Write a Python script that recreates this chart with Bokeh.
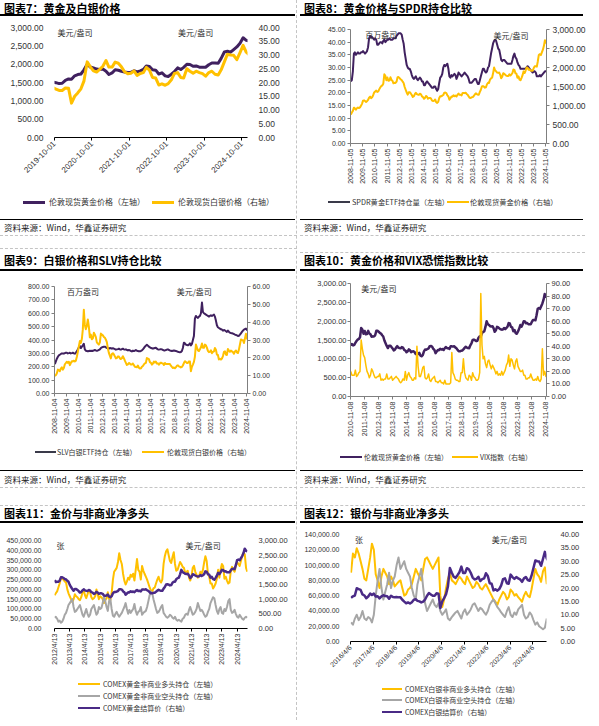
import numpy as np
import pandas as pd
from math import pi
from bokeh.plotting import figure
from bokeh.models import (Range1d, LinearAxis, FixedTicker, NumeralTickFormatter, Label, Div)
from bokeh.layouts import column, row
from bokeh.embed import file_html
from bokeh.resources import INLINE

# ---------------- data (monthly readings from the picture) ----------------
gold_m = [
    760, 816,
    858, 943, 924, 890, 928, 946, 934, 949, 996, 1043, 1127, 1135,
    1118, 1095, 1113, 1148, 1205, 1232, 1193, 1215, 1271, 1343, 1370, 1391,
    1356, 1372, 1424, 1474, 1510, 1529, 1572, 1820, 1780, 1665, 1739, 1652,
    1656, 1742, 1673, 1650, 1585, 1596, 1594, 1626, 1744, 1747, 1721, 1688,
    1671, 1627, 1593, 1487, 1414, 1343, 1286, 1347, 1349, 1316, 1275, 1225,
    1244, 1300, 1336, 1299, 1287, 1279, 1311, 1296, 1239, 1222, 1176, 1200,
    1251, 1227, 1179, 1198, 1199, 1181, 1128, 1118, 1125, 1159, 1086, 1068,
    1097, 1199, 1246, 1242, 1260, 1276, 1337, 1341, 1326, 1267, 1238, 1151,
    1192, 1234, 1231, 1267, 1246, 1260, 1236, 1283, 1314, 1280, 1283, 1265,
    1331, 1331, 1325, 1335, 1304, 1281, 1238, 1202, 1199, 1215, 1221, 1250,
    1291, 1320, 1300, 1285, 1283, 1359, 1413, 1500, 1510, 1495, 1470, 1479,
    1560, 1597, 1591, 1683, 1716, 1732, 1847, 2000, 1921, 1900, 1866, 1858,
    1867, 1808, 1718, 1760, 1850, 1834, 1807, 1785, 1775, 1777, 1820, 1790,
    1817, 1856, 1948, 1937, 1849, 1837, 1732, 1765, 1681, 1665, 1726, 1798,
    1898, 1855, 1913, 1999, 1992, 1942, 1951, 1918, 1916, 1916, 1985, 2031,
    2034, 2023, 2158, 2331, 2351, 2326, 2398, 2470, 2571, 2720, 2650, 2630,
]
silver_m = [
    9.8, 10.3,
    11.3, 13.4, 13.1, 12.5, 14.0, 14.7, 13.4, 14.3, 16.4, 17.1, 17.8, 17.2,
    17.8, 15.9, 17.1, 18.1, 18.0, 18.4, 17.9, 18.4, 20.6, 23.4, 26.5, 29.4,
    28.4, 30.7, 35.8, 47.0, 38.6, 36.0, 37.9, 41.5, 37.5, 31.5, 33.0, 30.4,
    31.0, 34.1, 33.0, 31.6, 28.7, 28.0, 27.4, 28.7, 33.6, 33.0, 32.6, 31.7,
    31.2, 30.2, 28.8, 25.4, 22.8, 21.2, 19.7, 22.1, 22.6, 21.9, 20.8, 19.7,
    19.9, 20.8, 20.7, 19.7, 19.3, 19.8, 20.9, 19.8, 18.4, 17.2, 16.0, 16.3,
    17.1, 16.8, 16.2, 16.3, 16.8, 16.0, 15.0, 14.9, 14.7, 15.7, 14.5, 14.0,
    14.1, 15.0, 15.4, 16.3, 16.9, 17.2, 19.9, 19.6, 19.3, 17.6, 17.2, 16.2,
    16.8, 17.9, 17.4, 17.9, 16.8, 16.9, 16.1, 16.9, 17.3, 17.0, 16.9, 16.0,
    17.1, 16.6, 16.5, 16.6, 16.5, 16.5, 15.6, 14.9, 14.3, 14.6, 14.2, 14.7,
    15.6, 15.8, 15.2, 15.0, 14.6, 14.9, 15.7, 17.1, 18.1, 17.6, 17.1, 17.1,
    18.0, 17.9, 12.5, 15.0, 16.2, 17.7, 20.6, 27.5, 25.7, 24.2, 23.8, 24.8,
    25.9, 28.0, 25.6, 25.6, 27.4, 27.0, 25.7, 23.9, 23.2, 23.4, 24.2, 22.6,
    23.3, 23.6, 25.5, 24.5, 21.8, 21.6, 19.1, 19.5, 19.0, 19.6, 21.0, 23.3,
    23.6, 21.8, 21.6, 25.0, 24.1, 23.4, 24.1, 23.6, 23.2, 22.3, 23.6, 24.1,
    23.0, 22.7, 24.6, 27.5, 30.3, 30.0, 29.9, 28.3, 30.9, 33.5, 31.0, 30.0,
]
spdr_m = [
    24.5, 25.0,
    28.5, 35.5, 36.0, 35.0, 35.5, 36.0, 35.5, 35.5, 36.0, 36.0, 36.5, 36.0,
    35.5, 36.0, 36.5, 38.0, 41.5, 42.5, 42.0, 42.0, 41.5, 41.0, 41.5, 41.0,
    39.0, 39.0, 39.5, 40.0, 40.0, 39.5, 40.5, 41.0, 40.0, 40.5, 41.0, 41.0,
    41.5, 41.0, 41.0, 41.0, 41.5, 41.5, 41.5, 42.5, 43.0, 43.5, 43.5, 43.5,
    43.0, 41.0, 39.5, 36.0, 33.5, 31.0, 30.0, 29.5, 29.5, 28.5, 27.0, 26.0,
    25.5, 26.0, 26.5, 25.5, 25.0, 25.5, 26.0, 25.5, 24.5, 24.5, 23.0, 23.0,
    24.0, 24.5, 24.0, 23.5, 23.0, 22.5, 22.0, 22.0, 22.5, 22.5, 21.5, 20.8,
    21.5, 24.0, 26.0, 26.5, 27.5, 30.0, 31.0, 30.5, 31.0, 31.5, 29.5, 26.5,
    26.0, 27.0, 26.5, 27.0, 27.5, 27.0, 25.5, 26.5, 28.0, 27.5, 27.0, 26.5,
    27.0, 27.5, 28.0, 27.5, 27.0, 26.5, 25.5, 24.0, 24.0, 24.0, 24.5, 25.0,
    25.5, 25.5, 24.5, 23.5, 23.5, 25.0, 26.5, 28.0, 29.5, 29.5, 28.5, 28.0,
    28.5, 30.0, 30.5, 33.0, 35.5, 37.5, 39.5, 40.5, 41.0, 40.5, 39.0, 37.5,
    37.0, 35.0, 33.0, 32.5, 33.0, 33.0, 32.5, 32.0, 31.5, 31.5, 31.5, 31.5,
    31.5, 33.0, 34.5, 35.5, 34.0, 33.5, 32.0, 31.0, 30.5, 29.5, 29.5, 29.5,
    29.5, 29.5, 29.5, 30.0, 30.5, 30.0, 29.5, 29.0, 28.5, 28.0, 28.5, 28.5,
    28.0, 26.5, 26.5, 26.5, 27.0, 26.5, 27.0, 27.5, 28.0, 28.5, 28.5, 28.5,
]
slv_m = [
    220, 240,
    260, 275, 285, 290, 295, 300, 300, 298, 302, 305, 305, 300,
    302, 305, 300, 302, 305, 300, 298, 305, 315, 330, 345, 355,
    340, 350, 360, 372, 330, 320, 318, 315, 318, 320, 318, 320,
    318, 322, 325, 322, 320, 322, 325, 330, 340, 345, 348, 350,
    350, 345, 340, 338, 335, 340, 338, 335, 338, 335, 332, 328,
    330, 332, 335, 330, 328, 332, 335, 330, 328, 330, 325, 322,
    325, 322, 318, 315, 320, 318, 320, 325, 320, 318, 315, 315,
    318, 322, 330, 340, 350, 358, 365, 358, 350, 345, 340, 338,
    335, 338, 340, 342, 335, 330, 328, 330, 332, 330, 325, 322,
    322, 325, 328, 330, 325, 322, 320, 318, 320, 322, 320, 318,
    315, 312, 310, 308, 310, 318, 340, 380, 375, 365, 362, 360,
    365, 375, 360, 370, 400, 430, 560, 580, 570, 565, 575, 580,
    600, 680, 610, 600, 595, 590, 585, 580, 575, 580, 585, 580,
    585, 590, 575, 545, 510, 495, 490, 485, 480, 478, 470, 475,
    472, 465, 460, 470, 462, 455, 452, 450, 448, 445, 440, 438,
    435, 430, 432, 440, 450, 460, 470, 478, 482, 485, 475, 470,
]
vix_m = [
    20, 17,
    17, 17, 21, 16, 17, 19, 20, 45, 38, 33, 31, 25,
    20, 18, 15, 17, 22, 20, 17, 15, 15, 16, 16, 18,
    13, 14, 13, 14, 14, 18, 14, 14, 15, 16, 13, 14,
    15, 16, 15, 14, 12, 11, 12, 14, 13, 20, 13, 17,
    19, 16, 15, 13, 13, 15, 14, 40, 24, 16, 16, 19,
    23, 24, 15, 14, 15, 18, 13, 12, 14, 15, 16, 12,
    12, 11, 12, 13, 11, 11, 10, 13, 10, 10, 10, 10,
    11, 35, 19, 17, 14, 13, 13, 12, 12, 19, 19, 30,
    19, 15, 14, 13, 17, 16, 13, 19, 16, 15, 13, 13,
    14, 19, 82, 41, 30, 32, 26, 23, 28, 29, 25, 22,
    25, 23, 21, 18, 20, 17, 18, 17, 20, 17, 19, 21,
    25, 27, 33, 24, 30, 29, 25, 22, 28, 30, 24, 22,
    20, 20, 21, 17, 17, 14, 14, 15, 15, 18, 15, 13,
    13, 14, 13, 16, 13, 12, 14, 38, 17, 20, 16, 17,
]
gold_long_k = [
    170, 180, 190, 210, 230, 260, 255, 250, 240,
    235, 200, 180, 165, 150, 135, 150, 175, 165, 160, 150, 145,
    160, 185, 195, 170, 155, 175, 195, 185, 160, 150, 155, 165,
    200, 175, 150, 165, 160, 150, 130, 145, 155, 185, 150, 145,
    180, 250, 290, 300, 310, 340, 385, 350, 330, 280, 245, 225,
    240, 260, 250, 275, 265, 280, 245, 300, 355, 300, 290, 250,
    320, 295, 280, 265, 250, 230, 210, 195, 190, 205, 210, 230,
    250, 265, 245, 235, 250, 330, 370, 395, 405, 375, 345, 335,
    365, 390, 330, 295, 300, 320, 340, 330, 315, 310, 285, 290,
    295, 260, 245, 265, 310, 320, 290, 275, 260, 270, 290, 280,
    300, 340, 370, 345, 280, 265, 230, 230, 205, 215, 230, 255,
    300, 260, 300, 330, 320, 255, 265, 245, 230, 235, 295, 315,
    300, 290, 320, 340, 330, 320, 345, 370, 385, 380, 310, 290,
]
gold_short_k = [
    55, 60, 50, 35, 40, 30, 35, 50, 70,
    80, 100, 120, 130, 140, 150, 110, 85, 90, 100, 110, 120,
    95, 70, 60, 80, 100, 75, 60, 70, 100, 110, 120, 95,
    70, 80, 110, 100, 105, 130, 165, 140, 110, 90, 140, 150,
    100, 65, 60, 75, 85, 70, 60, 70, 80, 95, 110, 130,
    100, 75, 95, 80, 90, 100, 125, 90, 70, 85, 90, 110,
    70, 80, 85, 90, 110, 140, 170, 190, 180, 150, 125, 100,
    80, 85, 95, 110, 120, 80, 70, 60, 55, 60, 70, 65,
    55, 50, 60, 45, 40, 45, 40, 35, 50, 55, 70, 75,
    70, 95, 110, 90, 70, 75, 85, 100, 130, 110, 90, 95,
    85, 70, 60, 65, 85, 100, 130, 145, 160, 155, 120, 90,
    75, 100, 110, 80, 75, 100, 90, 110, 140, 150, 95, 80,
    85, 95, 75, 60, 55, 70, 60, 50, 45, 55, 60, 55,
]
silver_long_k = [
    90, 115, 110, 122, 115, 105, 95, 82, 80,
    95, 110, 128, 120, 88, 80, 70, 85, 95, 90, 85, 75,
    85, 80, 72, 75, 78, 80, 70, 60, 62, 68, 70, 75,
    85, 95, 90, 85, 80, 95, 108, 110, 105, 100, 95, 100,
    105, 110, 60, 45, 55, 70, 82, 90, 80, 78, 75, 80,
    85, 82, 78, 75, 85, 80, 75, 70, 72, 78, 75, 70,
    68, 72, 75, 70, 65, 60, 55, 52, 48, 55, 60, 65,
    62, 55, 58, 68, 65, 60, 62, 58, 55, 52, 60, 65,
    60, 58, 68, 82, 95, 88, 85, 78, 92, 97, 75,
]
silver_short_k = [
    25, 22, 30, 35, 28, 32, 40, 30, 28,
    32, 30, 25, 35, 60, 80, 95, 70, 55, 65, 75, 90,
    70, 80, 85, 100, 110, 95, 100, 105, 95, 90, 85, 70,
    60, 55, 75, 85, 95, 70, 50, 40, 45, 50, 55, 48,
    45, 50, 40, 35, 38, 42, 30, 28, 32, 35, 38, 40,
    35, 30, 38, 42, 35, 38, 42, 48, 50, 45, 40, 44,
    42, 38, 35, 40, 48, 52, 55, 50, 45, 42, 38, 35,
    32, 40, 45, 35, 32, 38, 35, 42, 45, 48, 35, 30,
    32, 38, 35, 28, 22, 25, 20, 18, 16, 18, 30,
]

EPOCH = pd.Timestamp("1970-01-01")


def day(s):
    return float((pd.Timestamp(s) - EPOCH).days)


def mseries(vals, start, scale=1.0):
    idx = pd.date_range(start, periods=len(vals), freq="MS")
    return pd.Series(np.asarray(vals, dtype=float) * scale, index=idx)


def xs(s):
    return [float((t - EPOCH).days + 14) for t in s.index]


gold = mseries(gold_m, "2008-11-01")
silver = mseries(silver_m, "2008-11-01")
spdr = mseries(spdr_m, "2008-11-01")
slv = mseries(slv_m, "2008-11-01")
vix = mseries(vix_m, "2010-11-01")
g_long = mseries(gold_long_k, "2012-04-01", 1000)
g_short = mseries(gold_short_k, "2012-04-01", 1000)
s_long = mseries(silver_long_k, "2016-04-01", 1000)
s_short = mseries(silver_short_k, "2016-04-01", 1000)

PURPLE = "#40215F"
PURPLE2 = "#4A2A86"
YELLOW = "#FFC000"
GRAY = "#A6A6A6"
CJK = "Noto Sans CJK SC"
NUM = "Liberation Sans"
TXT = "#333333"
LW, RW = 296, 296


def make_panel(w, h, L, R, T, FH, xr, yl, yr, yline, xticks, xlabels, orient,
               lsize, rsize, xsize, lstand, rstand):
    x0, x1 = day(xr[0]), day(xr[1])
    p = figure(width=w, height=h, x_range=Range1d(x0, x1), y_range=Range1d(yl[0], yl[1]),
               output_backend="svg", toolbar_location=None,
               min_border_left=L, min_border_right=R, min_border_top=T,
               min_border_bottom=h - T - FH)
    p.extra_y_ranges = {"r": Range1d(yr[0], yr[1])}
    p.outline_line_color = None
    p.xgrid.visible = False
    p.ygrid.visible = False
    p.background_fill_color = "white"
    p.border_fill_color = "white"
    rax = LinearAxis(y_range_name="r")
    p.add_layout(rax, "right")
    for ax, spec, size, stand in ((p.yaxis[0], yl, lsize, lstand), (rax, yr, rsize, rstand)):
        ax.ticker = FixedTicker(ticks=list(np.arange(spec[0], spec[1] + spec[2] / 2, spec[2])))
        ax.formatter = NumeralTickFormatter(format=spec[3])
        ax.major_label_text_font = NUM
        ax.major_label_text_font_size = size
        ax.major_label_text_color = TXT
        ax.minor_tick_line_color = None
        ax.major_label_standoff = stand
        if yline:
            ax.axis_line_color = "#7F7F7F"
            ax.major_tick_line_color = "#7F7F7F"
            ax.major_tick_out = 3
            ax.major_tick_in = 0
        else:
            ax.axis_line_color = None
            ax.major_tick_line_color = None
    xa = p.xaxis[0]
    ticks = [day(t) for t in xticks]
    xa.ticker = FixedTicker(ticks=ticks)
    xa.major_label_overrides = {t: l for t, l in zip(ticks, xlabels)}
    xa.major_label_orientation = orient
    xa.major_label_text_font = NUM
    xa.major_label_text_font_size = xsize
    xa.major_label_text_color = TXT
    xa.minor_tick_line_color = None
    xa.axis_line_color = "#000000" if not yline else "#7F7F7F"
    xa.axis_line_width = 1.2
    xa.major_tick_line_color = xa.axis_line_color
    xa.major_tick_out = 3
    xa.major_tick_in = 0
    xa.major_label_standoff = 2
    p._frame = (x0, x1, yl[0], yl[1], w - L - R, FH)
    return p


def units(p, items):
    x0, x1, y0, y1, fw, fh = p._frame
    for text, fx, fy in items:
        p.add_layout(Label(x=x0 + fx / fw * (x1 - x0), y=y1 - fy / fh * (y1 - y0), text=text,
                           text_font=CJK, text_font_size="8px", text_color=TXT,
                           text_baseline="middle", text_align="left"))


def box(html_parts, w, h):
    html = f'<div style="position:relative;width:{w}px;height:{h}px;">{"".join(html_parts)}</div>'
    return Div(text=html, width=w, height=h, margin=(0, 0, 0, 0))


def legend_div(w, h, items, font):
    """items: (glyph_x, glyph_w, center_y, color, line_w, text_x, text)"""
    parts = []
    for gx, gw, cy, color, lw, tx, text in items:
        parts.append(f'<div style="position:absolute;left:{gx}px;top:{cy - lw / 2:.1f}px;width:{gw}px;'
                     f'height:{lw}px;background:{color};"></div>')
        parts.append(f'<div style="position:absolute;left:{tx}px;top:{cy - 6}px;font-family:\'{CJK}\';'
                     f'font-size:{font};line-height:12px;color:{TXT};white-space:nowrap;">{text}</div>')
    return box(parts, w, h)


# ---- panel 7 ----
p7 = make_panel(LW, 174, 52, 44, 11, 110, ("2019-10-01", "2024-11-27"),
                (0, 3000, 500, "0,0.00"), (0, 40, 5, "0.00"), False,
                [f"{y}-10-01" for y in range(2019, 2025)], [f"{y}-10-01" for y in range(2019, 2025)],
                pi / 4, "8.5px", "8.5px", "8px", 5, 5)
g7 = gold["2019-09-01":]
s7 = silver["2019-09-01":]
p7.line(xs(g7), g7.values, color=PURPLE, line_width=3, line_join="round")
p7.line(xs(s7), s7.values, color=YELLOW, line_width=3, line_join="round", y_range_name="r")
units(p7, [("美元/盎司", 3, 5), ("美元/盎司", 128, 5)])
l7 = legend_div(LW, 29, [(23, 22, 12, PURPLE, 3, 49, "伦敦现货黄金价格（左轴）"),
                         (152, 22, 12, YELLOW, 3, 178, "伦敦现货白银价格（右轴）")], "8px")

# ---- panel 8 ----
p8 = make_panel(RW, 174, 32, 50, 13, 114, ("2008-11-05", "2024-12-01"),
                (0, 45, 5, "0.00"), (0, 3000, 500, "0,0.00"), True,
                [f"{y}-11-05" for y in range(2008, 2025)], [f"{y}-11-05" for y in range(2008, 2025)],
                pi / 2, "7px", "8.5px", "7px", 2, 3)
p8.line(xs(spdr), spdr.values, color=PURPLE, line_width=2, line_join="round")
p8.line(xs(gold), gold.values, color=YELLOW, line_width=2, line_join="round", y_range_name="r")
units(p8, [("百万盎司", 16, 5), ("美元/盎司", 156, 6)])
l8 = legend_div(RW, 29, [(28, 22, 12, "#3A3A4A", 2, 52, "SPDR黄金ETF持仓量（左轴）"),
                         (147, 22, 12, YELLOW, 2, 170, "伦敦现货黄金价格（右轴）")], "7.3px")

# ---- panel 9 ----
p9 = make_panel(LW, 169, 39, 39, 15, 107, ("2008-11-04", "2024-12-01"),
                (0, 800, 100, "0.00"), (0, 60, 10, "0.00"), True,
                [f"{y}-11-04" for y in range(2008, 2025)], [f"{y}-11-04" for y in range(2008, 2025)],
                pi / 2, "7px", "7px", "7px", 2, 2)
p9.line(xs(slv), slv.values, color=PURPLE, line_width=2, line_join="round")
p9.line(xs(silver), silver.values, color=YELLOW, line_width=2, line_join="round", y_range_name="r")
units(p9, [("百万盎司", 14, 5), ("美元/盎司", 138, 5)])
l9 = legend_div(LW, 30, [(35, 21, 12, "#3A3A4A", 2, 57, "SLV白银ETF持仓（左轴）"),
                         (142, 22, 12, YELLOW, 2, 167, "伦敦现货白银价格（右轴）")], "7px")

# ---- panel 10 ----
p10 = make_panel(RW, 169, 35, 43, 12, 113, ("2010-11-08", "2024-12-01"),
                 (0, 3000, 500, "0,0.00"), (0, 90, 10, "0.00"), True,
                 [f"{y}-11-08" for y in range(2010, 2025)], [f"{y}-11-08" for y in range(2010, 2025)],
                 pi / 2, "7.5px", "7.5px", "7px", 1, 2)
g10 = gold["2010-10-01":]
p10.line(xs(g10), g10.values, color=PURPLE, line_width=2.5, line_join="round")
p10.line(xs(vix), vix.values, color=YELLOW, line_width=1.5, line_join="round", y_range_name="r")
units(p10, [("美元/盎司", 12, 5)])
l10 = legend_div(RW, 30, [(40, 22, 17, PURPLE, 2, 64, "伦敦现货黄金价格（左轴）"),
                          (152, 26, 17, YELLOW, 2, 180, "VIX指数（右轴）")], "7px")

# ---- panel 11 ----
p11 = make_panel(LW, 149, 54, 49, 17, 88, ("2012-04-13", "2024-12-20"),
                 (0, 450000, 50000, "0,0.00"), (0, 3000, 500, "0,0.00"), False,
                 [f"{y}-04-13" for y in range(2012, 2025)], [f"{y}/4/13" for y in range(2012, 2025)],
                 pi / 2, "7px", "7.5px", "7px", 7, 5)
g11 = gold["2012-04-01":]
p11.line(xs(g_long), g_long.values, color=YELLOW, line_width=2, line_join="round")
p11.line(xs(g_short), g_short.values, color=GRAY, line_width=2, line_join="round")
p11.line(xs(g11), g11.values, color=PURPLE2, line_width=2.5, line_join="round", y_range_name="r")
units(p11, [("张", 2, 5), ("美元/盎司", 131, 5)])
l11 = legend_div(LW, 48, [(78, 22, 12, YELLOW, 2, 103, "COMEX黄金非商业多头持仓（左轴）"),
                          (78, 22, 24, GRAY, 1.5, 103, "COMEX黄金非商业空头持仓（左轴）"),
                          (78, 22, 36, PURPLE2, 2, 103, "COMEX黄金结算价（右轴）")], "7px")

# ---- panel 12 ----
p12 = make_panel(RW, 151, 50, 31, 11, 107, ("2016-04-06", "2024-11-10"),
                 (0, 140000, 20000, "0,0.00"), (0, 40, 5, "0.00"), False,
                 [f"{y}-04-06" for y in range(2016, 2025)], [f"{y}/4/6" for y in range(2016, 2025)],
                 pi / 4, "7px", "7.5px", "7px", 5, 8)
s12 = silver["2016-04-01":]
p12.line(xs(s_long), s_long.values, color=YELLOW, line_width=2, line_join="round")
p12.line(xs(s_short), s_short.values, color=GRAY, line_width=2, line_join="round")
p12.line(xs(s12), s12.values, color=PURPLE2, line_width=2.5, line_join="round", y_range_name="r")
units(p12, [("张", 5, 5), ("美元/盎司", 155, 5)])
l12 = legend_div(RW, 46, [(82, 20, 15, YELLOW, 2, 105, "COMEX白银非商业多头持仓（左轴）"),
                          (82, 20, 26, GRAY, 1.5, 105, "COMEX白银非商业空头持仓（左轴）"),
                          (82, 20, 38, PURPLE2, 2, 105, "COMEX白银结算价（右轴）")], "7px")


# ---------------- text blocks ----------------
def title_div(text, w, h, dash_y, text_y, line_w):
    parts = []
    if dash_y is not None:
        parts.append(f'<div style="position:absolute;left:0px;top:{dash_y}px;width:{line_w + 2}px;'
                     f'height:0px;border-top:1px dashed #c4c4c4;"></div>')
    parts.append(f'<div style="position:absolute;left:4px;top:{text_y}px;font-family:\'{CJK}\';'
                 f'font-weight:700;font-size:11px;line-height:13px;color:#000;white-space:nowrap;">{text}</div>')
    parts.append(f'<div style="position:absolute;left:0px;top:{h - 2}px;width:{line_w}px;height:2px;'
                 f'background:#000;"></div>')
    return box(parts, w, h)


def source_div(w, h, line_w, text_y):
    parts = [
        f'<div style="position:absolute;left:0px;top:0px;width:{line_w}px;height:1px;background:#000;"></div>',
        f'<div style="position:absolute;left:4px;top:{text_y}px;font-family:\'{CJK}\';font-size:8.5px;'
        f'line-height:10px;color:#222;white-space:nowrap;">资料来源：Wind，华鑫证券研究</div>',
        f'<div style="position:absolute;left:0px;top:{h - 1}px;width:{line_w + 2}px;height:0px;'
        f'border-top:1px dashed #c4c4c4;"></div>',
    ]
    return box(parts, w, h)


left = column(
    title_div("图表7：黄金及白银价格", LW, 16, None, 2, 295),
    p7, l7,
    source_div(LW, 17, 295, 3),
    title_div("图表9：白银价格和SLV持仓比较", LW, 35, 12, 18, 295),
    p9, l9,
    source_div(LW, 18, 295, 4),
    title_div("图表11：金价与非商业净多头", LW, 35, 17, 19, 295),
    p11, l11,
    spacing=0,
)
right = column(
    title_div("图表8：黄金价格与SPDR持仓比较", RW, 16, None, 2, 283),
    p8, l8,
    source_div(RW, 17, 283, 3),
    title_div("图表10：黄金价格和VIX恐慌指数比较", RW, 35, 16, 18, 283),
    p10, l10,
    source_div(RW, 18, 283, 4),
    title_div("图表12：银价与非商业净多头", RW, 35, 17, 19, 283),
    p12, l12,
    spacing=0,
)
divider = box(['<div style="position:absolute;left:0px;top:0px;width:0px;height:720px;'
               'border-left:1px dashed #c4c4c4;"></div>'], 4, 720)
layout = row(left, divider, right, spacing=0)

open("out.html", "w").write(file_html(layout, INLINE))
